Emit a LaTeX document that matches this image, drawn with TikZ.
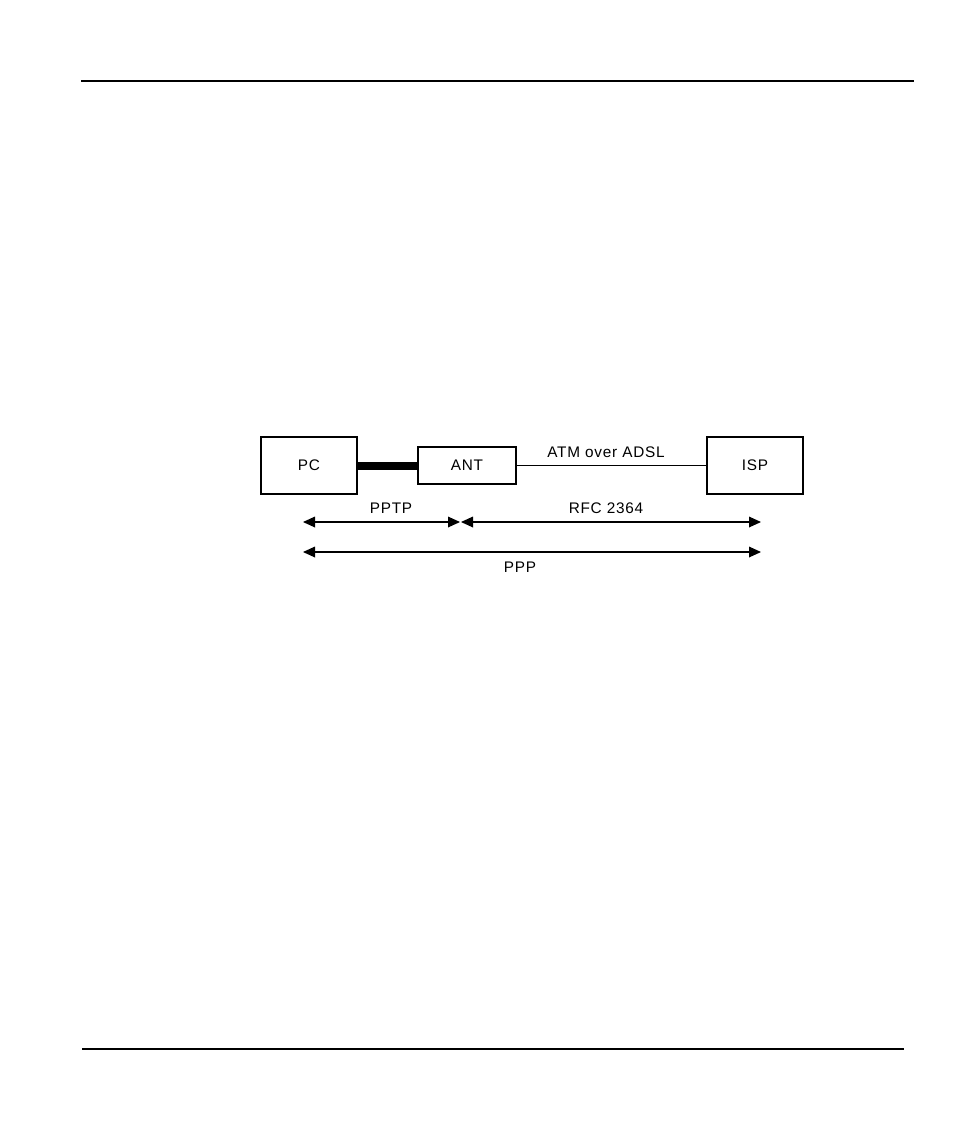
\documentclass[tikz,border=0pt]{standalone}
\usepackage{fontspec}
\setmainfont{Liberation Sans}[LetterSpace=5]
\usetikzlibrary{arrows.meta}
\begin{document}
\begin{tikzpicture}[x=0.75pt,y=-0.75pt,
  box/.style={draw,line width=0.9pt,inner sep=0pt},
  lbl/.style={font=\fontsize{11.5}{13}\selectfont,inner sep=0pt},
  dim/.style={line width=0.9pt,{Triangle[length=9pt,width=8pt]}-{Triangle[length=9pt,width=8pt]}},
  rule/.style={line width=1pt}]
\useasboundingbox (0,0) rectangle (954,1132);
\coordinate (t1) at (81,81); \coordinate (t2) at (914,81);
\coordinate (b1) at (82,1049); \coordinate (b2) at (904,1049);
\draw[rule] (t1) -- (t2);
\draw[rule] (b1) -- (b2);
\node[box,minimum width=96*0.75pt,minimum height=57*0.75pt] (pc) at (309,465.5) {};
\node[lbl] at (pc) {PC};
\node[box,minimum width=98*0.75pt,minimum height=37*0.75pt] (ant) at (467,465.5) {};
\node[lbl] at (ant) {ANT};
\node[box,minimum width=96*0.75pt,minimum height=57*0.75pt] (isp) at (755,465.5) {};
\node[lbl] at (isp) {ISP};
\draw[line width=6pt] (pc.east) -- (ant.west);
\draw[line width=0.9pt] (ant.east) -- (isp.west);
\node[lbl] (atm) at (606,452) {ATM over ADSL};
\coordinate (a1) at (303,522); \coordinate (a2) at (460,522);
\coordinate (a3) at (461,522); \coordinate (a4) at (761,522);
\coordinate (p1) at (303,552); \coordinate (p2) at (761,552);
\draw[dim] (a1) -- (a2);
\draw[dim] (a3) -- (a4);
\draw[dim] (p1) -- (p2);
\node[lbl] (pptp) at (391,508) {PPTP};
\node[lbl] (rfc) at (606,508) {RFC 2364};
\node[lbl] (ppp) at (520,567) {PPP};
\end{tikzpicture}
\end{document}
